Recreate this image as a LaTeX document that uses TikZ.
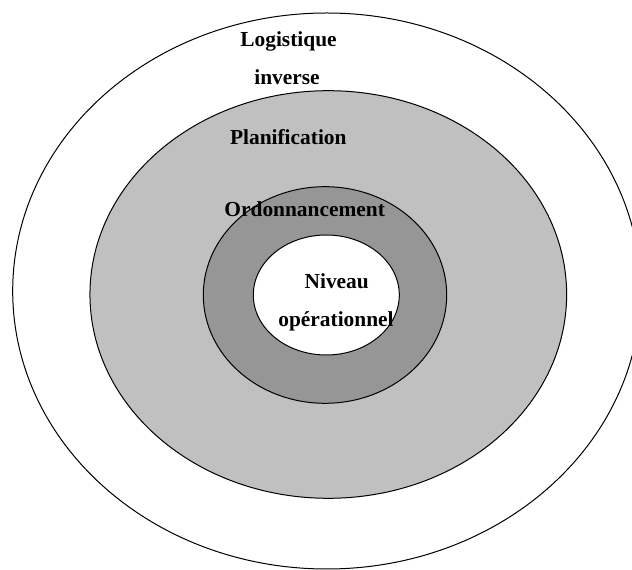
\documentclass[tikz,border=0pt]{standalone}
\usepackage{fontspec}
\setmainfont{Liberation Serif}
\usetikzlibrary{shapes.geometric}
\definecolor{lightgrey}{gray}{0.753}
\definecolor{midgrey}{gray}{0.59}
\tikzstyle{ring} = [ellipse, draw=black, line width=1pt, inner sep=0pt]
\tikzstyle{level} = [anchor=base, inner sep=0pt, font=\fontsize{21.4}{24}\selectfont\bfseries]
\begin{document}
\begin{tikzpicture}[x=1pt, y=1pt]
\useasboundingbox (0,0) rectangle (632,570);
\clip (0,0) rectangle (632,570);
\node (inverse) [ring, fill=white, minimum width=628pt, minimum height=556pt] at (326.7,279) {};
\node (planif) [ring, fill=lightgrey, minimum width=476.7pt, minimum height=407.6pt] at (328.3,275.5) {};
\node (ordo) [ring, fill=midgrey, minimum width=243.4pt, minimum height=216.6pt] at (325,275) {};
\node (operat) [ring, fill=white, minimum width=146pt, minimum height=120pt] at (326.3,275) {};
% labels
\node (lbllog) [level] at (288.5,523.3) {Logistique};
\node (lblinv) [level] at (287,485) {inverse};
\node (lblplan) [level] at (288.3,425.7) {Planification};
\node (lblordo) [level] at (304.7,353.3) {Ordonnancement};
\node (lblniv) [level] at (336.7,281) {Niveau};
\node (lblop) [level] at (336,243.3) {opérationnel};
\end{tikzpicture}
\end{document}
